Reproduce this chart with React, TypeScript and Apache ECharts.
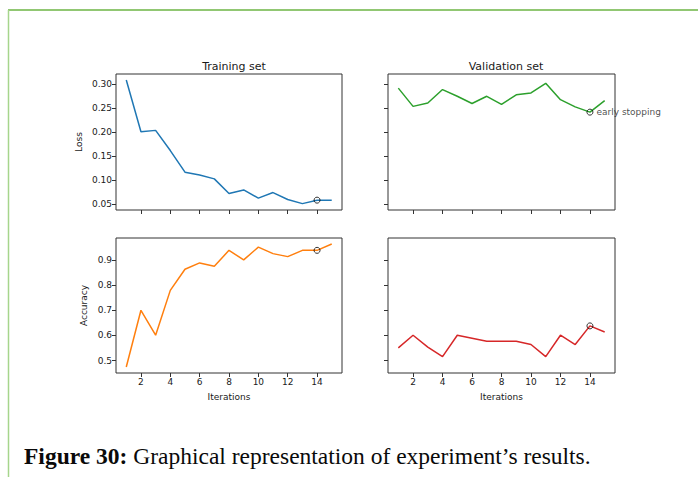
import React, { useEffect, useRef } from "react";
import * as echarts from "echarts";

const iterations = [1, 2, 3, 4, 5, 6, 7, 8, 9, 10, 11, 12, 13, 14, 15];
const trainLoss = [0.308, 0.2, 0.203, 0.161, 0.116, 0.11, 0.102, 0.0716, 0.079, 0.062, 0.0735, 0.059, 0.0505, 0.0577, 0.0577];
const valLoss = [0.291, 0.253, 0.26, 0.288, 0.274, 0.259, 0.274, 0.257, 0.277, 0.281, 0.301, 0.267, 0.252, 0.241, 0.265];
const trainAcc = [0.475, 0.7, 0.601, 0.779, 0.863, 0.888, 0.875, 0.938, 0.9, 0.951, 0.925, 0.913, 0.938, 0.938, 0.963];
const valAcc = [0.551, 0.601, 0.554, 0.516, 0.601, 0.589, 0.577, 0.577, 0.577, 0.564, 0.516, 0.601, 0.564, 0.638, 0.614];
const xTicks = [2, 4, 6, 8, 10, 12, 14];
const lossTicks = [0.05, 0.1, 0.15, 0.2, 0.25, 0.3];
const accTicks = [0.5, 0.6, 0.7, 0.8, 0.9];
const stopIteration = 14;
const titles = ["Training set", "Validation set"];
const caption = "Graphical representation of experiment\u2019s results.";
const captionBold = "Figure 30:";

const FONT = "DejaVu Sans";

export default function App() {
  const ref = useRef<HTMLDivElement>(null);
  useEffect(() => {
    const chart = echarts.init(ref.current!, null, { renderer: "svg" });
    const grids = [
      { left: 116, top: 74, width: 226, height: 136 },
      { left: 388, top: 74, width: 227, height: 136 },
      { left: 116, top: 238, width: 226, height: 135 },
      { left: 388, top: 238, width: 227, height: 135 },
    ].map((g) => ({
      ...g,
      show: true,
      borderColor: "#333",
      borderWidth: 1,
      backgroundColor: "transparent",
      containLabel: false,
      outerBoundsMode: "none",
    }));

    const xAxes = grids.map((_, i) => ({
      type: "value",
      gridIndex: i,
      min: 0.3,
      max: 15.7,
      splitLine: { show: false },
      axisLine: { show: false },
      axisTick: { show: true, length: 4, lineStyle: { color: "#333" }, customValues: xTicks },
      axisLabel: {
        show: i >= 2,
        customValues: xTicks,
        fontFamily: FONT,
        fontSize: 9,
        color: "#1a1a1a",
        margin: 4,
      },
      name: i >= 2 ? "Iterations" : "",
      nameLocation: "middle",
      nameGap: 19,
      nameTextStyle: { fontFamily: FONT, fontSize: 9, color: "#1a1a1a" },
    }));

    const lossMin = 0.0372, lossMax = 0.3204;
    const accMin = 0.451, accMax = 0.987;
    const yAxes = grids.map((_, i) => {
      const isLoss = i < 2;
      const ticks = isLoss ? lossTicks : accTicks;
      return {
        type: "value",
        gridIndex: i,
        min: isLoss ? lossMin : accMin,
        max: isLoss ? lossMax : accMax,
        splitLine: { show: false },
        axisLine: { show: false },
        axisTick: { show: true, length: 4, lineStyle: { color: "#333" }, customValues: ticks },
        axisLabel: {
          show: i % 2 === 0,
          customValues: ticks,
          formatter: (v: number) => v.toFixed(isLoss ? 2 : 1),
          fontFamily: FONT,
          fontSize: 9,
          color: "#1a1a1a",
          margin: 4,
        },
        name: i === 0 ? "Loss" : i === 2 ? "Accuracy" : "",
        nameLocation: "middle",
        nameGap: i === 0 ? 33 : 28,
        nameTextStyle: { fontFamily: FONT, fontSize: 9, color: "#1a1a1a" },
      };
    });

    const datasets = [
      { data: trainLoss, color: "#1f77b4" },
      { data: valLoss, color: "#2ca02c" },
      { data: trainAcc, color: "#ff7f0e" },
      { data: valAcc, color: "#d62728" },
    ];

    const series: any[] = [];
    datasets.forEach((d, i) => {
      series.push({
        type: "line",
        xAxisIndex: i,
        yAxisIndex: i,
        data: iterations.map((x, k) => [x, d.data[k]]),
        showSymbol: false,
        symbol: "none",
        lineStyle: { color: d.color, width: 1.5 },
        itemStyle: { color: d.color },
        clip: false,
      });
      const idx = iterations.indexOf(stopIteration);
      series.push({
        type: "scatter",
        xAxisIndex: i,
        yAxisIndex: i,
        data: [[stopIteration, d.data[idx]]],
        symbol: "circle",
        symbolSize: 6,
        itemStyle: { color: "transparent", borderColor: "#000", borderWidth: 1 },
        label:
          i === 1
            ? {
                show: true,
                position: "right",
                distance: 3,
                formatter: "early stopping",
                fontFamily: FONT,
                fontSize: 9,
                color: "#1a1a1a",
              }
            : { show: false },
        z: 5,
      });
    });

    chart.setOption({
      animation: false,
      backgroundColor: "#fff",
      title: [
        { text: titles[0], left: 229, top: 56, textAlign: "center", textStyle: { fontFamily: FONT, fontSize: 11, fontWeight: "normal", color: "#1a1a1a" } },
        { text: titles[1], left: 501, top: 56, textAlign: "center", textStyle: { fontFamily: FONT, fontSize: 11, fontWeight: "normal", color: "#1a1a1a" } },
      ],
      grid: grids,
      xAxis: xAxes,
      yAxis: yAxes,
      series,
      graphic: [
        { type: "line", shape: { x1: 8, y1: 10, x2: 698, y2: 10 }, style: { stroke: "#6db544", lineWidth: 1.5 } },
        { type: "line", shape: { x1: 8.5, y1: 10, x2: 8.5, y2: 477 }, style: { stroke: "#a6d58c", lineWidth: 1.5 } },
        {
          type: "text",
          left: 24,
          top: 444,
          style: {
            text: "{b|" + captionBold + "} " + caption,
            font: "23.5px 'Liberation Serif'",
            fill: "#0a0a0a",
            rich: { b: { fontWeight: "bold", fontFamily: "Liberation Serif", fontSize: 23.5, fill: "#0a0a0a" } },
          },
        },
      ],
    });
    return () => chart.dispose();
  }, []);
  return <div ref={ref} style={{ position: "fixed", left: 0, top: 0, width: 698, height: 477 }} />;
}
